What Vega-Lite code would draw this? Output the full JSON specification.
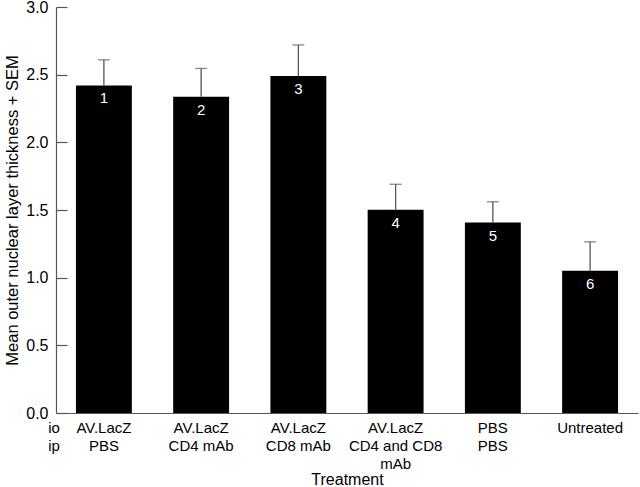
{
  "$schema": "https://vega.github.io/schema/vega-lite/v6.json",
  "width": 582,
  "height": 406,
  "autosize": "none",
  "padding": {"left": 56, "top": 7, "right": 2, "bottom": 74},
  "background": "white",
  "config": {
    "view": {"stroke": null},
    "font": "Liberation Sans",
    "axis": {"grid": false, "labelColor": "black", "titleColor": "black", "titleFontWeight": "normal", "labelFont": "Liberation Sans", "titleFont": "Liberation Sans"}
  },
  "data": {
    "values": [
      {"key": "a", "label": "AV.LacZ|PBS", "mean": 2.42, "top": 2.61, "num": "1"},
      {"key": "b", "label": "AV.LacZ|CD4 mAb", "mean": 2.336, "top": 2.546, "num": "2"},
      {"key": "c", "label": "AV.LacZ|CD8 mAb", "mean": 2.49, "top": 2.72, "num": "3"},
      {"key": "d", "label": "AV.LacZ|CD4 and CD8|mAb", "mean": 1.502, "top": 1.69, "num": "4"},
      {"key": "e", "label": "PBS|PBS", "mean": 1.407, "top": 1.561, "num": "5"},
      {"key": "f", "label": "Untreated", "mean": 1.051, "top": 1.265, "num": "6"}
    ]
  },
  "encoding": {
    "x": {
      "field": "key",
      "type": "nominal",
      "sort": null,
      "scale": {"paddingInner": 0.425, "paddingOuter": 0.205},
      "axis": {
        "labelExpr": "split(datum.value == 'a' ? 'AV.LacZ|PBS' : datum.value == 'b' ? 'AV.LacZ|CD4 mAb' : datum.value == 'c' ? 'AV.LacZ|CD8 mAb' : datum.value == 'd' ? 'AV.LacZ|CD4 and CD8|mAb' : datum.value == 'e' ? 'PBS|PBS' : 'Untreated', '|')",
        "labelAngle": 0,
        "labelFontSize": 15,
        "labelLineHeight": 18,
        "labelPadding": 7,
        "ticks": false,
        "tickSize": 0,
        "domainColor": "#555",
        "domainWidth": 1.2,
        "title": "Treatment",
        "titleFontSize": 16,
        "titlePadding": 0
      }
    }
  },
  "layer": [
    {
      "mark": {"type": "bar", "color": "black"},
      "encoding": {
        "y": {
          "field": "mean",
          "type": "quantitative",
          "scale": {"domain": [0, 3], "nice": false},
          "axis": {
            "values": [0, 0.5, 1, 1.5, 2, 2.5, 3],
            "format": ".1f",
            "labelFontSize": 16,
            "labelPadding": 19,
            "tickSize": -11,
            "tickColor": "#555",
            "tickWidth": 1.2,
            "domainColor": "#555",
            "domainWidth": 1.2,
            "title": "Mean outer nuclear layer thickness + SEM",
            "titleFontSize": 16.5,
            "titlePadding": 5
          }
        }
      }
    },
    {
      "mark": {"type": "rule", "color": "#555", "strokeWidth": 1.3},
      "encoding": {"y": {"field": "mean", "type": "quantitative"}, "y2": {"field": "top"}}
    },
    {
      "mark": {"type": "tick", "color": "#555", "thickness": 1.3, "size": 12},
      "encoding": {"y": {"field": "top", "type": "quantitative"}}
    },
    {
      "mark": {"type": "text", "color": "white", "fontSize": 15, "baseline": "middle", "dy": 13},
      "encoding": {"y": {"field": "mean", "type": "quantitative"}, "text": {"field": "num"}}
    },
    {
      "data": {"values": [{"t": "io|ip"}]},
      "mark": {"type": "text", "color": "black", "fontSize": 15, "baseline": "top", "align": "center", "lineHeight": 18, "dy": 8},
      "encoding": {
        "x": {"value": -2},
        "y": {"datum": 0, "type": "quantitative"},
        "text": {"value": ["io", "ip"]}
      }
    }
  ]
}
